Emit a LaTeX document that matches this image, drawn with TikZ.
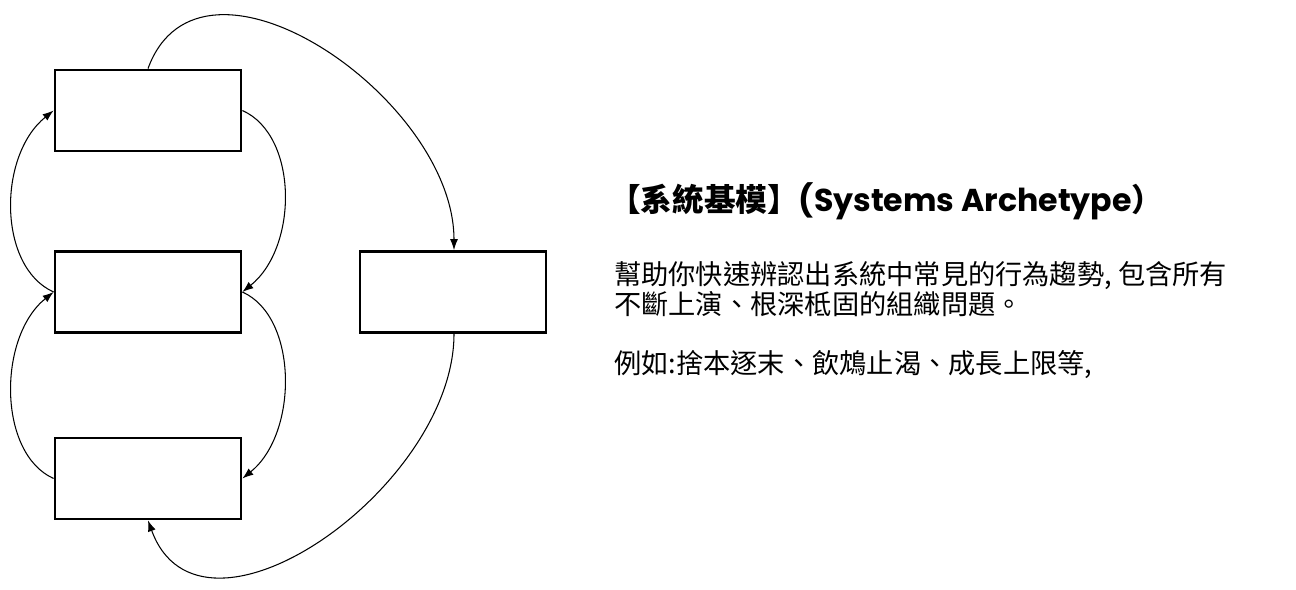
\documentclass[tikz,border=0pt]{standalone}
\usepackage{fontspec}
\setmainfont{Poppins}
\newfontfamily\cjk{Noto Sans CJK TC}
\usetikzlibrary{arrows.meta}
\tikzset{
  stockbox/.style={draw, line width=1.6pt, minimum width=3.72cm, minimum height=1.62cm},
  loop/.style={-{Latex[length=2.2mm,width=1.6mm]}, line width=0.6pt}
}
\begin{document}
\begin{tikzpicture}[x=0.02cm,y=-0.02cm]
\useasboundingbox (0,0) rectangle (1296,590);
% boxes
\node[stockbox] (top) at (148,110.5) {};
\node[stockbox] (mid) at (148,292) {};
\node[stockbox] (low) at (148,478.5) {};
\node[stockbox] (side) at (453,292) {};

% side loops
\draw[loop] (mid.west) .. controls +(-56,-25) and +(-56,45) .. (top.west);
\draw[loop] (low.west) .. controls +(-56,-25) and +(-56,45) .. (mid.west);
\draw[loop] (top.east) .. controls +(56,25) and +(56,-45) .. (mid.east);
\draw[loop] (mid.east) .. controls +(56,25) and +(56,-45) .. (low.east);

% outer loop
\draw[loop] (top.north) to[out=70,in=90,looseness=1.1] ([xshift=0.2mm]side.north);
\draw[loop] ([xshift=0.2mm]side.south) to[out=-90,in=-70,looseness=1.1] (low.south);

% text
\node[anchor=west, font=\fontsize{18}{22}\selectfont\bfseries] (title) at (603,201)
  {{\cjk\bfseries 【系統基模】}(Systems Archetype{\cjk ）}};
\node[anchor=north west, align=left, font=\cjk\fontsize{15.5}{17}\selectfont] (body) at (608,255)
  {幫助你快速辨認出系統中常見的行為趨勢, 包含所有\\不斷上演、根深柢固的組織問題。\\[17pt]例如:捨本逐末、飲鴆止渴、成長上限等,};
\end{tikzpicture}
\end{document}
